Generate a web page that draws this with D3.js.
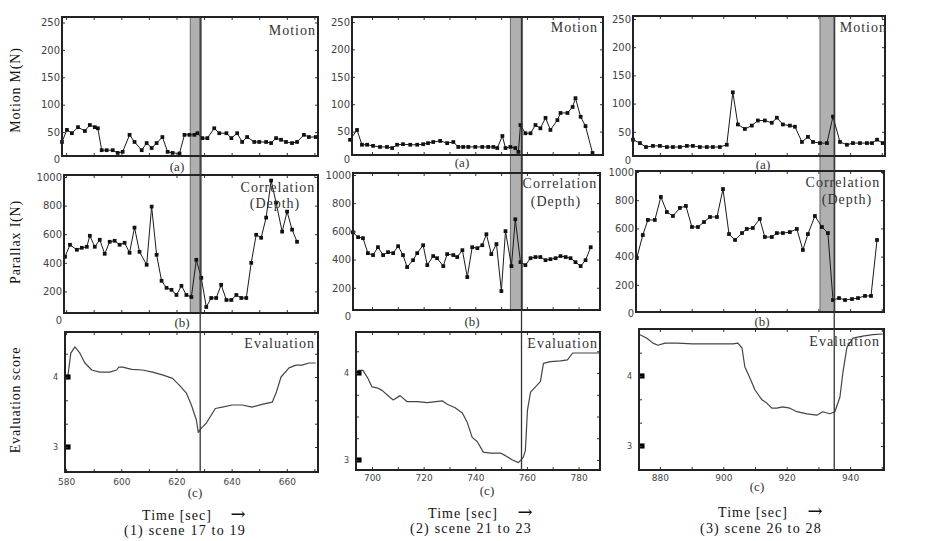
<!DOCTYPE html>
<html><head><meta charset="utf-8">
<script src="https://cdn.jsdelivr.net/npm/d3@7"></script>
<style>
body{margin:0;background:#fff}
svg{display:block}
</style></head><body>
<svg id="chart" width="927" height="541"></svg>
<script>
// ---------------- DATA ----------------
// Row (a): Motion M(N)
const motionT1 = [578.5,580.3,582.1,584.3,586.8,588.6,590.4,591.5,592.9,594.7,596.9,598.7,600.5,603.0,604.8,607.4,609.2,611.0,612.8,614.9,616.8,618.6,621.1,622.9,624.7,626.5,627.6,629.4,631.2,633.7,635.5,638.1,639.9,642.0,643.8,645.6,648.2,650.0,652.5,654.3,656.1,657.9,659.7,661.9,663.7,666.2,668.0,670.5];
const motionV1 = [32,54,48,59,52,63,59,57,17,17,17,12,14,45,32,17,30,21,30,41,14,12,11,45,45,45,48,39,39,57,48,48,39,48,32,41,32,32,32,30,39,36,32,30,32,45,41,41];
const motionT2 = [691.5,694.2,696.1,698.1,700.4,703.1,705.8,707.8,709.7,712.0,714.8,717.5,719.8,721.7,723.7,726.4,729.1,731.5,733.4,735.3,737.3,740.0,742.7,745.0,747.0,748.5,750.5,751.7,753.6,755.5,756.7,757.5,759.4,761.4,763.3,765.2,767.2,769.1,771.8,773.0,775.7,777.7,778.8,780.8,782.7,785.4];
const motionV2 = [35,53,26,26,24,22,22,20,26,27,26,26,27,29,31,33,29,31,22,22,22,22,22,22,22,20,42,20,22,20,13,62,47,47,62,56,75,53,71,84,84,95,111,77,60,11];
const motionT3 = [871.5,873.7,875.6,877.8,880.0,882.2,884.1,886.3,888.5,890.4,892.6,894.8,896.7,898.9,901.1,903.0,904.6,906.8,909.0,910.9,913.1,915.3,916.9,918.8,921.0,922.6,924.8,926.7,928.3,930.5,932.7,934.6,936.8,939.0,940.9,943.1,945.3,946.9,948.5,950.3];
const motionV3 = [36,30,23,25,25,23,23,23,25,25,23,23,23,23,27,120,63,55,61,70,70,66,75,63,61,59,32,41,32,30,30,77,32,27,30,30,30,30,36,30];

// Row (b): Parallax I(N), correlation (depth)
const depthT1 = [579.6,581.4,583.9,585.7,587.5,588.6,590.4,592.2,594.0,595.8,597.6,599.4,601.2,603.0,604.8,606.6,609.2,611.0,612.8,614.6,616.4,618.2,620.0,621.8,623.6,625.4,627.2,629.0,630.8,632.6,634.4,636.2,638.1,639.9,641.7,643.5,645.3,647.1,648.9,650.7,652.5,654.3,656.1,658.3,660.1,661.9,663.7];
const depthV1 = [442,526,491,505,512,589,512,561,463,547,554,526,540,470,646,477,386,793,456,274,225,211,175,239,175,161,421,295,91,154,154,246,140,140,175,154,154,400,596,575,716,975,821,618,758,632,547];
const depthT2 = [692.6,694.6,696.5,698.4,700.4,702.3,704.3,706.2,708.2,710.1,712.0,713.6,715.9,717.5,719.8,721.4,723.7,725.2,727.6,729.1,731.5,733.0,735.0,736.9,738.8,740.8,742.7,744.3,746.2,748.2,750.1,751.7,754.0,755.5,757.5,759.4,761.4,763.3,765.2,767.2,769.1,771.1,773.0,775.0,776.9,778.8,780.8,782.7,784.7];
const depthV2 = [594,559,552,446,432,488,432,453,446,495,432,347,396,446,502,361,425,410,354,439,432,418,467,276,488,481,502,580,439,510,177,602,354,686,382,361,410,418,418,396,403,410,425,418,410,382,354,396,488];
const depthT3 = [872.7,874.6,876.2,878.4,880.3,882.2,884.1,886.3,888.2,890.1,892.0,893.9,895.8,898.0,899.9,901.8,903.7,905.9,907.4,909.3,911.5,913.1,915.3,916.9,918.8,921.0,923.2,925.1,926.7,928.9,931.1,933.0,934.6,936.5,938.4,940.6,942.5,944.7,946.6,948.5];
const depthV3 = [390,553,660,660,823,716,688,745,759,610,610,645,681,681,879,560,518,567,596,603,667,539,539,567,567,574,596,447,560,688,610,567,92,106,92,99,106,121,121,518];

// Row (c): Evaluation score
const evalT1 = [580.6,581.7,583.2,585.0,586.8,589.3,592.2,595.8,598.3,599.1,600.5,603.8,607.7,611.3,614.9,618.6,621.1,623.6,625.4,627.2,627.9,629.0,630.8,631.9,634.1,636.6,640.2,643.8,647.4,651.0,654.7,656.1,657.9,660.8,663.3,665.5,668.0,670.5];
const evalS1 = [4.00,4.34,4.43,4.34,4.20,4.10,4.07,4.07,4.10,4.14,4.14,4.11,4.10,4.07,4.03,3.98,3.88,3.77,3.60,3.39,3.21,3.27,3.34,3.41,3.55,3.57,3.60,3.60,3.57,3.61,3.64,3.77,4.00,4.13,4.17,4.17,4.20,4.20];
const evalT2 = [694.6,696.5,698.4,700.0,701.9,703.9,705.8,708.2,710.9,713.6,717.5,721.4,727.2,729.1,732.2,735.0,736.9,738.8,740.8,743.1,745.8,749.7,751.7,754.4,756.7,758.6,759.4,760.2,761.4,763.3,765.2,766.4,769.1,773.0,775.7,777.7,780.8,784.7,788.5];
const evalS2 = [4.03,4.03,3.94,3.84,3.83,3.80,3.75,3.69,3.74,3.67,3.67,3.66,3.68,3.64,3.60,3.54,3.43,3.26,3.21,3.09,3.08,3.08,3.05,3.00,2.97,3.03,3.11,3.57,3.78,3.84,3.90,4.11,4.13,4.14,4.15,4.23,4.23,4.23,4.23];
const evalT3 = [873.7,875.9,877.8,879.4,881.6,885.4,890.4,894.8,898.9,903.0,904.6,905.9,906.8,908.4,910.0,912.2,913.8,915.3,916.9,918.8,921.0,923.2,926.4,929.5,931.4,933.6,935.2,936.8,937.7,939.0,940.9,944.0,947.2,950.3];
const evalS3 = [4.59,4.54,4.47,4.44,4.47,4.47,4.46,4.46,4.46,4.46,4.47,4.40,4.13,3.97,3.80,3.66,3.61,3.54,3.54,3.56,3.54,3.49,3.46,3.44,3.49,3.46,3.49,3.70,4.04,4.41,4.54,4.57,4.59,4.60];
const evalMarks = [3, 4];

// scene cut (shaded band) and cut line, seconds
const bandStart = [625.0, 753.6, 930.5];
const bandEnd   = [629.0, 758.3, 935.2];
const cutTime   = [628.6, 757.9, 935.0];

// axis domains and ticks
const timeDomains = [[579.6, 671.3], [693.8, 788.3], [873.4, 950.7]];
const timeLabelTicks = [[580, 600, 620, 640, 660], [700, 720, 740, 760, 780], [880, 900, 920, 940]];
const timeMinorTicks = [[580,590,600,610,620,630,640,650,660,670], [700,710,720,730,740,750,760,770,780], [880,890,900,910,920,930,940,950]];
const motionTicks = [0, 50, 100, 150, 200, 250];
const depthTicks = [0, 200, 400, 600, 800, 1000];
const evalLabelTicks = [3, 4];
const evalMinorTicks = [[3, 3.333, 3.667, 4, 4.333], [3, 3.25, 3.5, 3.75, 4, 4.25], [3, 3.333, 3.667, 4, 4.333]];
const yDomains = [[0, 250], [0, 1000], [3, 4]];

// text
const panelTitles = ["Motion", "Correlation", "Evaluation"];
const depthSub = "(Depth)";
const rowTags = ["(a)", "(b)", "(c)"];
const yTitles = ["Motion M(N)", "Parallax I(N)", "Evaluation score"];
const timeTitle = "Time [sec]";
const sceneLabels = ["(1) scene 17 to 19", "(2) scene 21 to 23", "(3) scene 26 to 28"];

// ---------------- LAYOUT ----------------
const L = {
  frames: [
    [[62,17,318,156],[352,17,603,155],[633,16,885,156]],
    [[64,175,318,313],[353,173,600,310],[636,171,884,312]],
    [[65,332,318,472],[356,332,600,470],[639,329,884,470]]
  ],
  yRanges: [
    [[159.5,22.5],[159,22],[160,19]],
    [[320,177],[316,175],[313,172]],
    [[447,377],[460,373],[446,376]]
  ],
  xRanges: [[65,318],[356,600],[639,884]],
  titlePos: [
    [[316,35],[598,32],[887,32]],
    [[278,192],[560,188],[843,187]],
    [[315,348],[598,348],[880,346]]
  ],
  depthPos: [[275,208],[556,206],[847,204]],
  tagPos: [
    [[177,171],[462,167],[763,169]],
    [[182,327],[472,326],[762,326]],
    [[195,497],[487,495],[757,491]]
  ],
  timePos: [[177,520],[463,518],[753,517]],
  arrowPos: [[238,520],[525,518],[815,517]],
  scenePos: [[185,535],[471,533],[761,533]],
  yTitlePos: [[20,90],[20,242],[20,400]],
  xLabelPad: [7, 5, 5]
};

const serif = "'Liberation Serif','Times New Roman',serif";
const sans = "'DejaVu Sans',sans-serif";
const svg = d3.select("#chart");

const xScales = timeDomains.map((d, c) => d3.scaleLinear().domain(d).range(L.xRanges[c]));
const series = [
  [[motionT1, motionV1], [motionT2, motionV2], [motionT3, motionV3]],
  [[depthT1, depthV1], [depthT2, depthV2], [depthT3, depthV3]],
  [[evalT1, evalS1], [evalT2, evalS2], [evalT3, evalS3]]
];

const defs = svg.append("defs");

// shaded bands (behind data)
[0,1,2].forEach(c => {
  const x = xScales[c];
  const top = L.frames[0][c][1], bot = L.frames[1][c][3];
  svg.append("rect")
    .attr("x", x(bandStart[c])).attr("y", top)
    .attr("width", x(bandEnd[c]) - x(bandStart[c])).attr("height", bot - top)
    .attr("fill", "#b0b0b0").attr("stroke", "#6a6a6a").attr("stroke-width", 1);
});

function styleAxis(g, size) {
  g.select(".domain").remove();
  g.selectAll(".tick line").attr("stroke", "#333").attr("stroke-width", 1);
  g.selectAll(".tick text").attr("fill", "#444").attr("font-family", sans).attr("font-size", size);
}

for (let r = 0; r < 3; r++) {
  for (let c = 0; c < 3; c++) {
    const [fl, ft, fr, fb] = L.frames[r][c];
    const x = xScales[c];
    const y = d3.scaleLinear().domain(yDomains[r]).range(L.yRanges[r][c]);
    const [T, V] = series[r][c];
    const pts = T.map((t, i) => ({t, v: V[i]}));
    const g = svg.append("g");

    const cid = "clip" + r + c;
    defs.append("clipPath").attr("id", cid).append("rect")
      .attr("x", fl).attr("y", ft).attr("width", fr - fl).attr("height", fb - ft);

    // data
    const line = d3.line().x(d => x(d.t)).y(d => y(d.v));
    g.append("path").datum(pts).attr("d", line)
      .attr("fill", "none").attr("stroke", r < 2 ? "#1a1a1a" : "#444")
      .attr("stroke-width", r < 2 ? 1 : 1.2).attr("stroke-linejoin", "round");
    if (r < 2) {
      g.selectAll(".m").data(pts).join("path")
        .attr("transform", d => `translate(${x(d.t)},${y(d.v)})`)
        .attr("d", d3.symbol(d3.symbolSquare, 14)())
        .attr("fill", "#111");
    } else {
      g.selectAll(".em").data(evalMarks).join("path")
        .attr("transform", d => `translate(${fl + 3},${y(d)})`)
        .attr("d", d3.symbol(d3.symbolSquare, 26)())
        .attr("fill", "#000");
    }

    // axes
    const yTickVals = r === 0 ? motionTicks : r === 1 ? depthTicks : evalMinorTicks[c];
    const inside = d => y(d) >= ft - 0.5 && y(d) <= fb + 0.5;
    const gl = g.append("g").attr("transform", `translate(${fl},0)`);
    if (r < 2) {
      gl.call(d3.axisLeft(y).tickValues(yTickVals).tickSize(-3).tickPadding(2).tickFormat(d3.format("d")));
      styleAxis(gl, 10);
    } else {
      gl.call(d3.axisLeft(y).tickValues(yTickVals).tickSize(-3).tickPadding(7)
        .tickFormat(d => evalLabelTicks.includes(d) ? d3.format("d")(d) : ""));
      styleAxis(gl, 8);
    }
    gl.selectAll(".tick").filter(d => !inside(d)).select("line").remove();

    const gr = g.append("g").attr("transform", `translate(${fr},0)`);
    gr.call(d3.axisRight(y).tickValues(yTickVals.filter(inside)).tickSize(-3).tickFormat(""));
    styleAxis(gr, 8);

    const gt = g.append("g").attr("transform", `translate(0,${ft})`);
    gt.call(d3.axisTop(x).tickValues(timeMinorTicks[c]).tickSize(-3).tickFormat(""));
    styleAxis(gt, 8);

    const gb = g.append("g").attr("transform", `translate(0,${fb})`);
    gb.call(d3.axisBottom(x).tickValues(timeMinorTicks[c]).tickSize(-3).tickFormat(""));
    styleAxis(gb, 8);
    if (r === 2) {
      const gx = g.append("g").attr("transform", `translate(0,${fb})`);
      gx.call(d3.axisBottom(x).tickValues(timeLabelTicks[c]).tickSize(0).tickPadding(L.xLabelPad[c]));
      styleAxis(gx, 9);
    }

    // frame
    g.append("rect").attr("x", fl).attr("y", ft).attr("width", fr - fl).attr("height", fb - ft)
      .attr("fill", "none").attr("stroke", "#222").attr("stroke-width", 2);

    // titles
    const [tx, ty] = L.titlePos[r][c];
    svg.append("text").attr("x", tx).attr("y", ty)
      .attr("text-anchor", r === 1 ? "middle" : "end")
      .attr("clip-path", `url(#${cid})`)
      .attr("font-family", serif).attr("font-size", 14).attr("letter-spacing", 1)
      .attr("fill", "#333").text(panelTitles[r]);
    if (r === 1) {
      const [dx, dy] = L.depthPos[c];
      svg.append("text").attr("x", dx).attr("y", dy).attr("text-anchor", "middle")
        .attr("font-family", serif).attr("font-size", 14).attr("letter-spacing", 1)
        .attr("fill", "#333").text(depthSub);
    }
    const [ax, ay] = L.tagPos[r][c];
    svg.append("text").attr("x", ax).attr("y", ay).attr("text-anchor", "middle")
      .attr("font-family", serif).attr("font-size", 13).attr("fill", "#333").text(rowTags[r]);
  }
}

// cut lines
[0,1,2].forEach(c => {
  const x = xScales[c](cutTime[c]);
  svg.append("line").attr("x1", x).attr("x2", x)
    .attr("y1", L.frames[0][c][1]).attr("y2", L.frames[2][c][3])
    .attr("stroke", "#333").attr("stroke-width", 1.3);
});

// y titles
yTitles.forEach((t, i) => {
  const [x, y] = L.yTitlePos[i];
  svg.append("text").attr("transform", `translate(${x},${y}) rotate(-90)`)
    .attr("text-anchor", "middle").attr("font-family", serif).attr("font-size", 14)
    .attr("letter-spacing", 0.8).attr("fill", "#111").text(t);
});

// bottom labels
[0,1,2].forEach(c => {
  const [tx, ty] = L.timePos[c];
  svg.append("text").attr("x", tx).attr("y", ty).attr("text-anchor", "middle")
    .attr("font-family", serif).attr("font-size", 14).attr("letter-spacing", 1)
    .attr("fill", "#111").text(timeTitle);
  const [rx, ry] = L.arrowPos[c];
  svg.append("text").attr("x", rx).attr("y", ry).attr("text-anchor", "middle")
    .attr("font-family", "'DejaVu Serif',serif").attr("font-size", 18)
    .attr("fill", "#111").text("\u2192");
  const [sx, sy] = L.scenePos[c];
  svg.append("text").attr("x", sx).attr("y", sy).attr("text-anchor", "middle")
    .attr("font-family", serif).attr("font-size", 14).attr("letter-spacing", 1.2)
    .attr("fill", "#111").text(sceneLabels[c]);
});
</script>
</body></html>
